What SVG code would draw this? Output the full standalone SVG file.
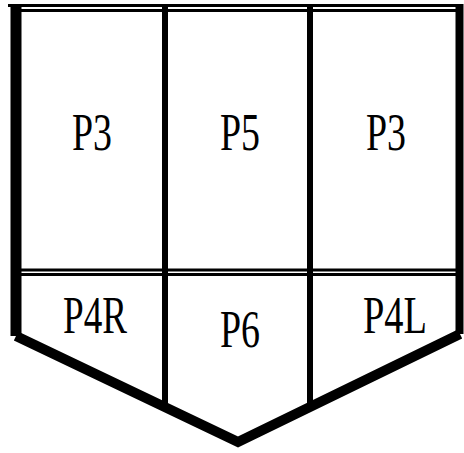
<svg xmlns="http://www.w3.org/2000/svg" width="464" height="453" viewBox="0 0 464 453">
<style>
.lbl{font-family:"Liberation Serif","DejaVu Serif",serif;font-size:53px;fill:#000;text-anchor:middle}
.thin{stroke:#000;stroke-width:3;fill:none}
.mid{stroke:#000;stroke-width:6;fill:none}
.thick{stroke:#000;stroke-width:10;fill:none;stroke-linejoin:miter}
</style>
<rect width="464" height="453" fill="#fff"/>
<g id="connectors">
<line class="thin" x1="8" y1="5.5" x2="462" y2="5.5"/>
<line class="thin" x1="16" y1="10.5" x2="462" y2="10.5"/>
<line class="thin" x1="16" y1="270" x2="460" y2="270"/>
<line class="thin" x1="16" y1="274.5" x2="460" y2="274.5"/>
<line x1="16" y1="4" x2="16" y2="336" stroke="#000" stroke-width="11"/>
<line x1="459.5" y1="4" x2="459.5" y2="334" stroke="#000" stroke-width="8"/>
<line class="mid" x1="165" y1="4" x2="165" y2="408"/>
<line class="mid" x1="310" y1="4" x2="310" y2="405"/>
<polyline class="thick" points="16,336 238,442 460,334"/>
</g>
<g id="p3-left"><text class="lbl" x="92" y="150" textLength="40" lengthAdjust="spacingAndGlyphs">P3</text></g>
<g id="p5"><text class="lbl" x="240" y="150" textLength="40" lengthAdjust="spacingAndGlyphs">P5</text></g>
<g id="p3-right"><text class="lbl" x="386" y="150" textLength="40" lengthAdjust="spacingAndGlyphs">P3</text></g>
<g id="p4r"><text class="lbl" x="95" y="333" textLength="64" lengthAdjust="spacingAndGlyphs">P4R</text></g>
<g id="p6"><text class="lbl" x="240" y="347" textLength="40" lengthAdjust="spacingAndGlyphs">P6</text></g>
<g id="p4l"><text class="lbl" x="395" y="333" textLength="64" lengthAdjust="spacingAndGlyphs">P4L</text></g>
</svg>
